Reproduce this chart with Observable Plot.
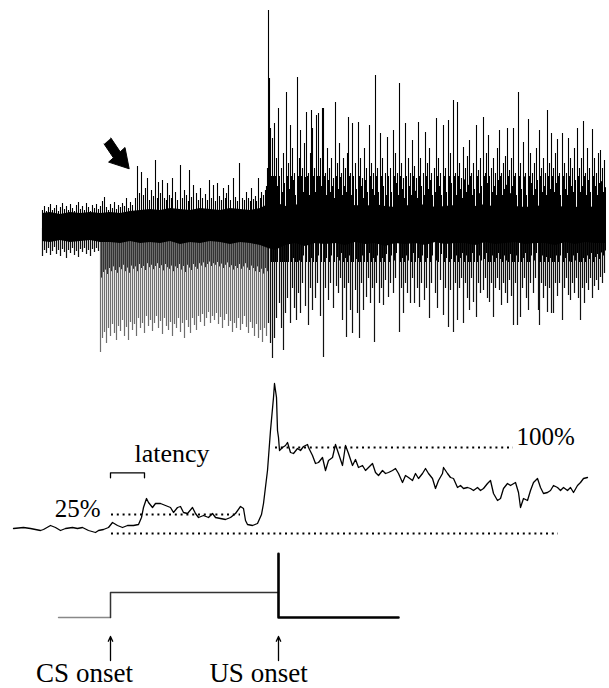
<!DOCTYPE html>
<html>
<head>
<meta charset="utf-8">
<script src="https://cdn.jsdelivr.net/npm/d3@7"></script>
<script src="https://cdn.jsdelivr.net/npm/@observablehq/plot@0.6"></script>
<style>
  html, body { margin: 0; padding: 0; background: #fff; }
  #chart svg { display: block; }
  #chart svg text { font-family: "Liberation Serif", "Times New Roman", serif; }
</style>
</head>
<body>
<div id="chart"></div>
<script>
// ---------- DATA (time in samples, amplitudes in arbitrary units) ----------
// Raw EMG: dense core band
const coreT  = [42,50,60,70,80,90,100, 110,120,130,140,150,160,170,180,190,200,210,220,230,240,250,260, 268, 275,
                285,295,305,315,325,335,345,355,365,375,385,395,405,415,425,435,445,455,465,475,485,495,505,515,525,535,545,555,565,575,585,595,605];
const coreHi = [15,16,14,16,15,16,15, 16,15,17,18,19,18,20,19,18,20,19,18,20,19,18,20, 24, 26,
                22,24,21,23,22,24,21,23,22,24,22,21,23,22,24,21,22,23,21,22,24,21,23,22,21,22,23,21,22,21,22,21,20];
const coreLo = [-13,-14,-12,-14,-13,-12,-14, -14,-15,-13,-15,-14,-15,-13,-16,-14,-15,-13,-14,-16,-14,-15,-17, -20, -22,
                -17,-15,-18,-15,-16,-15,-17,-14,-16,-15,-18,-15,-16,-15,-17,-14,-16,-15,-15,-17,-14,-16,-15,-14,-16,-15,-15,-17,-14,-16,-14,-15,-15];

// Raw EMG: upward excursions [time, amplitude]
const rawUp = [
 [42,18],[44,22],[46,17],[48,21],[50,24],[52,18],[54,20],[56,23],[58,17],[60,21],[62,25],[64,19],[66,22],[68,18],[70,24],[72,20],[74,17],[76,23],[78,26],[80,19],[82,22],[84,18],[86,25],[88,21],[90,17],[92,23],[94,20],[96,24],[98,19],[100,22],[102,27],[104,31],[106,21],[108,18],[110,24],[112,20],[114,26],[116,19],[118,23],[120,21],[122,25],[124,22],[126,30],[128,20],[130,26],[132,23],
 [135,30],[137,62],[139,35],[141,56],[143,33],[145,40],[147,50],[149,28],[151,38],[153,32],[155,68],[157,30],[158,46],[160,35],[162,48],[164,30],[166,28],[167,45],[169,33],[171,30],[172,50],[175,36],[177,28],[180,63],[182,30],[184,38],[186,33],[188,27],[189,58],[191,31],[193,43],[196,35],[198,28],[200,40],[202,30],[205,34],[207,28],[209,48],[211,30],[213,43],[215,27],[217,45],[219,32],[221,28],[223,40],[225,30],[226,35],[228,43],[230,28],[233,50],[235,31],[237,27],[239,65],[242,30],[244,28],[246,36],[248,30],[250,27],[251,40],[253,29],[255,32],[256,27],[258,50],[260,30],[261,36],[263,33],[265,38],[266,42],
 [267,60],[268,218],[269,150],[270,100],[272,90],[274,105],
 [276,70],[278,120],[281,60],[283,75],[286,136],[288,65],[290,103],[292,80],[294,55],[297,151],[299,70],[300,98],[302,60],[304,85],[306,116],[308,55],[310,75],[311,118],[312,100],[314,60],[316,113],[318,115],[320,70],[322,120],[323,120],[325,55],[327,80],[329,60],[331,70],[333,50],[335,126],[337,65],[339,85],[341,55],[343,70],[345,60],[347,75],[348,111],[350,55],[352,105],[355,65],[358,106],[360,70],[362,50],[364,80],[366,60],[369,103],[371,65],[373,55],[375,153],[377,60],[380,95],[382,70],[385,55],[387,91],[390,60],[393,98],[395,75],[397,55],[399,145],[401,65],[403,50],[405,105],[408,70],[410,55],[412,88],[414,62],[416,50],[418,106],[420,70],[423,55],[425,96],[427,65],[429,80],[431,55],[434,60],[436,110],[438,70],[440,55],[443,103],[445,60],[448,108],[450,75],[453,128],[455,55],[457,126],[459,65],[461,50],[463,81],[465,60],[467,72],[469,88],[471,55],[473,65],[476,103],[478,58],[480,70],[483,111],[485,55],[486,75],[488,93],[491,60],[493,70],[495,55],[497,80],[499,98],[501,55],[503,65],[505,72],[507,100],[509,58],[511,70],[513,100],[515,55],[518,136],[520,65],[523,86],[525,55],[528,109],[530,75],[532,55],[534,65],[536,80],[539,98],[541,60],[543,70],[545,55],[547,118],[549,65],[551,95],[553,60],[555,75],[557,89],[559,55],[562,95],[564,65],[566,55],[568,90],[570,70],[572,60],[574,80],[577,100],[579,60],[581,70],[583,107],[585,55],[587,80],[589,60],[592,99],[594,70],[596,55],[598,75],[600,78],[602,60],[604,68]
];

// Raw EMG: downward excursions [time, amplitude]
const rawDown = [
 [42,-28],[44,-22],[46,-25],[48,-20],[50,-27],[52,-23],[54,-19],[56,-26],[58,-22],[60,-28],[62,-21],[64,-24],[66,-30],[68,-22],[70,-25],[72,-20],[74,-27],[76,-23],[78,-29],[80,-21],[82,-24],[84,-20],[86,-26],[88,-22],[90,-28],[92,-21],[94,-24],[96,-20],[98,-23],
 [100,-124],[102,-110],[104,-104],[106,-115],[108,-100],[110,-108],[112,-96],[114,-105],[116,-112],[118,-98],[120,-103],[122,-92],[124,-108],[126,-99],[128,-112],[130,-94],[132,-102],[134,-96],[136,-108],[138,-90],[140,-100],[142,-95],[144,-105],[146,-88],[148,-98],[150,-92],[152,-103],[154,-95],[156,-88],[158,-100],[160,-93],[162,-106],[164,-90],[166,-98],[168,-102],[170,-94],[172,-108],[174,-96],[176,-100],[178,-90],[180,-104],[182,-95],[184,-110],[186,-92],[188,-99],[190,-105],[192,-90],[194,-97],[196,-102],[198,-88],[200,-94],[202,-86],[204,-98],[206,-90],[208,-84],[210,-95],[212,-88],[214,-92],[216,-85],[218,-96],[220,-89],[222,-100],[224,-92],[226,-86],[228,-98],[230,-93],[232,-104],[234,-95],[236,-100],[238,-90],[240,-102],[242,-96],[244,-88],[246,-99],[248,-105],[250,-94],[252,-100],[254,-108],[256,-96],[258,-110],[260,-102],[262,-114],[264,-100],[266,-108],
 [268,-95],[270,-115],[272,-130],[274,-110],[276,-90],[279,-75],[281,-100],[283,-122],[285,-85],[287,-70],[290,-95],[292,-60],[294,-80],[296,-92],[298,-65],[300,-85],[302,-55],[305,-78],[308,-97],[310,-60],[312,-82],[315,-70],[317,-55],[320,-88],[323,-129],[325,-60],[328,-72],[330,-55],[333,-80],[336,-58],[338,-65],[340,-50],[342,-92],[344,-60],[346,-109],[348,-55],[350,-82],[352,-105],[355,-62],[357,-85],[359,-110],[361,-55],[363,-82],[366,-69],[368,-50],[370,-75],[372,-60],[374,-114],[376,-55],[379,-75],[381,-60],[383,-77],[385,-52],[388,-69],[390,-55],[393,-65],[395,-50],[399,-104],[401,-60],[403,-85],[405,-55],[407,-65],[410,-75],[412,-50],[414,-75],[417,-60],[419,-79],[421,-55],[424,-72],[426,-60],[429,-90],[431,-55],[435,-65],[437,-80],[440,-52],[443,-87],[445,-60],[448,-99],[450,-62],[453,-104],[455,-55],[457,-92],[459,-60],[461,-50],[463,-95],[465,-55],[467,-70],[469,-82],[471,-50],[473,-74],[476,-89],[478,-55],[480,-65],[483,-62],[485,-50],[487,-70],[489,-74],[491,-55],[493,-89],[495,-60],[497,-50],[499,-62],[501,-77],[503,-55],[505,-65],[507,-75],[509,-52],[511,-68],[513,-97],[515,-55],[517,-97],[520,-89],[522,-60],[524,-50],[526,-70],[528,-82],[530,-55],[533,-65],[535,-50],[538,-82],[539,-97],[541,-55],[543,-70],[545,-58],[547,-84],[549,-60],[551,-85],[553,-85],[555,-55],[557,-68],[559,-55],[562,-92],[564,-60],[566,-50],[568,-67],[570,-72],[572,-55],[574,-65],[576,-50],[578,-70],[580,-92],[582,-60],[584,-75],[586,-55],[588,-62],[590,-50],[592,-70],[594,-58],[596,-52],[598,-62],[600,-49],[602,-55],[604,-45]
];

// Arrow pointing at response onset (outline in time/amplitude units)
const arrowOutline = [[110.4,90.5],[119.7,76.7],[124.5,81],[128.7,59.7],[108.1,66.4],[112.9,70.7],[103.6,84.5]];

// Rectified & integrated EMG [time, amplitude]
const rectified = [
 [13,5],[23,6],[30,5],[40,3],[43,4],[50,8],[55,6],[60,3],[65,5],[72,6],[77,5],[82,6],[88,3],[95,1],[98,3],[103,4],[108,6],[112,11],[117,8],[122,6],[127,8],[133,8],[138,9],[141,16],[143,26],[146,35],[148,31],[152,26],[155,30],[160,30],[165,28],[170,26],[173,21],[177,26],[180,27],[183,21],[187,20],[192,26],[195,20],[198,16],[203,18],[208,16],[212,20],[215,16],[220,15],[225,14],[230,16],[235,20],[240,27],[243,25],[245,13],[247,9],[252,8],[257,10],[261,19],[263,30],[267,63],[270,103],[273,136],[274,150],[276,136],[277,103],[278,96],[279,83],[282,86],[285,88],[287,91],[290,81],[293,80],[297,85],[300,83],[303,87],[307,89],[308,86],[312,78],[315,70],[318,71],[322,76],[325,63],[328,73],[332,76],[335,89],[338,80],[342,68],[345,88],[348,80],[352,68],[355,74],[358,66],[362,68],[365,63],[368,66],[372,70],[375,61],[378,58],[382,63],[385,60],[388,61],[392,63],[395,65],[398,60],[402,51],[405,58],[408,56],[412,53],[415,60],[418,55],[422,60],[425,65],[428,60],[432,55],[435,45],[438,53],[442,60],[443,66],[447,60],[450,56],[453,55],[457,46],[460,48],[463,45],[467,46],[470,45],[473,43],[477,46],[480,43],[483,45],[487,50],[490,53],[493,40],[497,33],[500,35],[503,45],[507,50],[510,48],[515,51],[518,41],[520,26],[523,35],[527,33],[530,43],[533,51],[537,55],[540,46],[543,40],[547,41],[550,43],[553,48],[557,46],[560,43],[563,46],[567,43],[570,46],[573,41],[577,48],[580,51],[583,55],[587,56]
];

// Reference levels
const baseLevel = 0, level25 = 19, level100 = 86;
const dottedBase = [111, 558], dotted25 = [111, 240], dotted100 = [275, 513];
const latencyBracket = [[110,55.7],[110,60.7],[144,60.7],[144,55.7]];
const label25 = {t: 100, v: 25, text: "25%"};
const label100 = {t: 516, v: 96.7, text: "100%"};
const labelLatency = {t: 134, v: 80.3, text: "latency"};

// Stimulus timing
const csStart = 58, csOnset = 110, usOnset = 278, trialEnd = 398;
const csLevel = 1, usLevel = 2.55;
const onsetLabels = [{t: 84, text: "CS onset", onset: csOnset}, {t: 258, text: "US onset", onset: usOnset}];

// ---------- DRAWING ----------
const W = 609;
const FONT = "'Liberation Serif', 'Times New Roman', serif";
const common = {width: W, margin: 0, x: {domain: [0, W], axis: null},
  style: {background: "#fff", overflow: "visible", fontFamily: FONT}};
const core = coreT.map((t, i) => ({t, hi: coreHi[i], lo: coreLo[i]}));
const inGray = d => d[0] >= 100 && d[0] < 267;

const raw = Plot.plot({
  ...common, height: 360,
  y: {domain: [-132, 228], axis: null},
  marks: [
    Plot.ruleX(rawDown, {x: d => d[0], y1: 0, y2: d => d[1],
      stroke: d => inGray(d) ? "#6e6e6e" : "#111", strokeWidth: 1.2}),
    Plot.ruleX(rawDown.filter(inGray), {x: d => d[0] + 1, y1: 0, y2: d => d[1] * 0.4,
      stroke: "#333", strokeWidth: 1}),
    Plot.ruleX(rawDown.filter(d => d[0] > 268), {x: d => d[0] + 1, y1: 0, y2: d => Math.max(d[1] * 0.5, -34),
      stroke: "#000", strokeWidth: 1}),
    Plot.ruleX(rawUp, {x: d => d[0], y1: 0, y2: d => d[1], stroke: "#000", strokeWidth: 1.1}),
    Plot.ruleX(rawUp.filter(d => d[0] > 268), {x: d => d[0] + 1, y1: 0, y2: d => Math.min(d[1] * 0.6, 52), stroke: "#000", strokeWidth: 1}),
    Plot.areaY(core, {x: "t", y1: "lo", y2: "hi", fill: "#000"}),
    Plot.line(arrowOutline, {x: d => d[0], y: d => d[1], fill: "#000", stroke: "#000", strokeWidth: 1})
  ]
});

const textOpts = {fill: "#000", fontFamily: FONT, lineAnchor: "middle"};
const rect = Plot.plot({
  ...common, height: 185,
  y: {domain: [-12, 173], axis: null},
  marks: [
    Plot.ruleY([baseLevel], {x1: dottedBase[0], x2: dottedBase[1], stroke: "#000", strokeWidth: 2, strokeDasharray: "2 3.8"}),
    Plot.ruleY([level25], {x1: dotted25[0], x2: dotted25[1], stroke: "#000", strokeWidth: 2, strokeDasharray: "2 3.8"}),
    Plot.ruleY([level100], {x1: dotted100[0], x2: dotted100[1], stroke: "#000", strokeWidth: 2, strokeDasharray: "2 3.8"}),
    Plot.line(rectified, {x: d => d[0], y: d => d[1], stroke: "#000", strokeWidth: 1.3}),
    Plot.line(latencyBracket, {x: d => d[0], y: d => d[1], stroke: "#000", strokeWidth: 1.3}),
    Plot.text([label25], {x: "t", y: "v", text: "text", textAnchor: "end", fontSize: 25, ...textOpts}),
    Plot.text([label100], {x: "t", y: "v", text: "text", textAnchor: "start", fontSize: 25, ...textOpts}),
    Plot.text([labelLatency], {x: "t", y: "v", text: "text", textAnchor: "start", fontSize: 26, ...textOpts})
  ]
});

const stim = Plot.plot({
  ...common, height: 143,
  y: {domain: [-2.84, 2.88], axis: null},
  marks: [
    Plot.line([[csStart, 0], [csOnset, 0]], {x: d => d[0], y: d => d[1], stroke: "#888", strokeWidth: 1.4}),
    Plot.line([[csOnset, 0], [csOnset, csLevel], [usOnset, csLevel]], {x: d => d[0], y: d => d[1], stroke: "#333", strokeWidth: 1.5}),
    Plot.line([[usOnset, usLevel], [usOnset, 0], [trialEnd, 0]], {x: d => d[0], y: d => d[1], stroke: "#000", strokeWidth: 2.6}),
    Plot.arrow(onsetLabels, {x1: "onset", x2: "onset", y1: -1.72, y2: -0.76, stroke: "#000", strokeWidth: 1.3, headLength: 6, headAngle: 50}),
    Plot.text(onsetLabels, {x: "t", y: -2.22, text: "text", fontSize: 27, ...textOpts})
  ]
});

document.getElementById("chart").append(raw, rect, stim);
</script>
</body>
</html>
